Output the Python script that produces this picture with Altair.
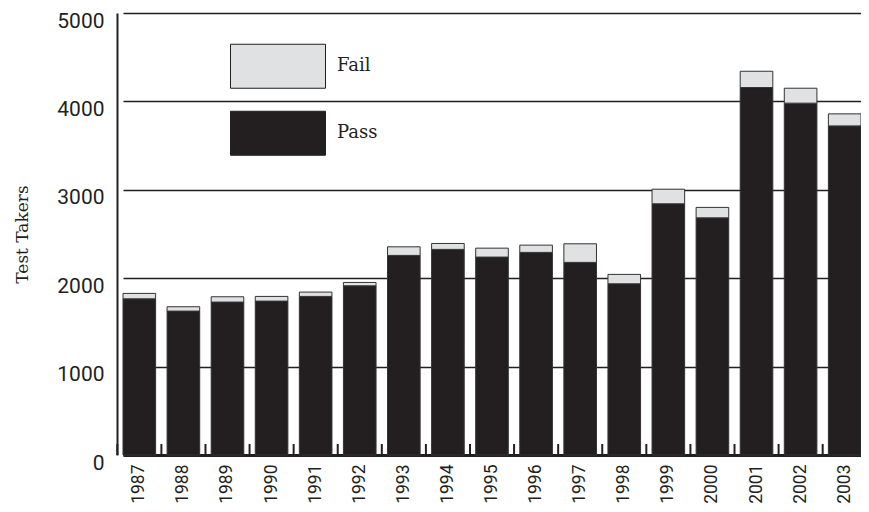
import altair as alt
import pandas as pd

years = [str(y) for y in range(1987, 2004)]
passed = [1767, 1628, 1730, 1741, 1794, 1914, 2258, 2326, 2239, 2292, 2179, 1937, 2842, 2683, 4157, 3980, 3723]
failed = [61, 49, 60, 53, 49, 38, 97, 67, 101, 82, 210, 106, 165, 118, 184, 169, 136]
statuses = ["Fail", "Pass"]
colors = ["#e0e1e2", "#231f20"]
y_ticks = [0, 1000, 2000, 3000, 4000, 5000]

rows = []
for yr, p, f in zip(years, passed, failed):
    rows.append({"year": yr, "status": "Pass", "count": p, "rank": 0})
    rows.append({"year": yr, "status": "Fail", "count": f, "rank": 1})
df = pd.DataFrame(rows)
ticks_df = pd.DataFrame({"year": years})

dark = "#231f20"
xscale = alt.Scale(domain=years, range=[6, 744], paddingInner=0.26, paddingOuter=0)
xaxis = alt.Axis(title=None, labelAngle=-90, ticks=False, domain=True, domainWidth=3,
                 domainColor=dark, labelPadding=9, labelFontSize=17.5, labelFont="Roboto",
                 labelColor=dark, grid=False)

bars = alt.Chart(df).mark_bar(stroke="#333333", strokeWidth=1).encode(
    x=alt.X("year:O", scale=xscale, axis=xaxis),
    y=alt.Y("count:Q", stack="zero", scale=alt.Scale(domain=[0, 5000], nice=False),
            axis=alt.Axis(values=y_ticks, format="d", title="Test Takers",
                          titleFont="DejaVu Serif", titleFontSize=17,
                          titleFontWeight="normal", titleColor=dark,
                          titleX=-90, titleY=221, titleBaseline="alphabetic",
                          grid=True, gridColor=dark, gridWidth=1.5, gridOpacity=1,
                          ticks=False, domain=True, domainWidth=2, domainColor=dark,
                          labelPadding=13, labelFontSize=21, labelFont="Roboto",
                          labelColor=dark, labelBaseline="top", labelOffset=-3)),
    color=alt.Color("status:N", scale=alt.Scale(domain=statuses, range=colors),
                    legend=alt.Legend(orient="none", legendX=113, legendY=20, title=None,
                                      symbolType="M-1,-0.463L1,-0.463L1,0.463L-1,0.463Z",
                                      symbolSize=9025, symbolStrokeColor=dark,
                                      symbolStrokeWidth=1, symbolOpacity=1,
                                      labelFont="DejaVu Serif", labelFontSize=18,
                                      labelColor=dark, labelOffset=11, rowPadding=0,
                                      clipHeight=66.5, padding=0)),
    order=alt.Order("rank:Q"),
)

tick_rules = alt.Chart(ticks_df).mark_rule(color=dark, strokeWidth=2, xOffset=-5.7).encode(
    x=alt.X("year:O", bandPosition=0, scale=xscale, axis=xaxis),
    y=alt.value(442),
    y2=alt.value(431),
)

chart = alt.layer(bars, tick_rules).properties(
    width=744, height=442,
    autosize=alt.AutoSizeParams(type="none"),
    padding={"left": 109, "top": 5, "right": 0, "bottom": 49},
    background="white",
).configure_view(strokeWidth=0)

chart.save("out.html", embed_options={"renderer": "svg", "actions": False})
